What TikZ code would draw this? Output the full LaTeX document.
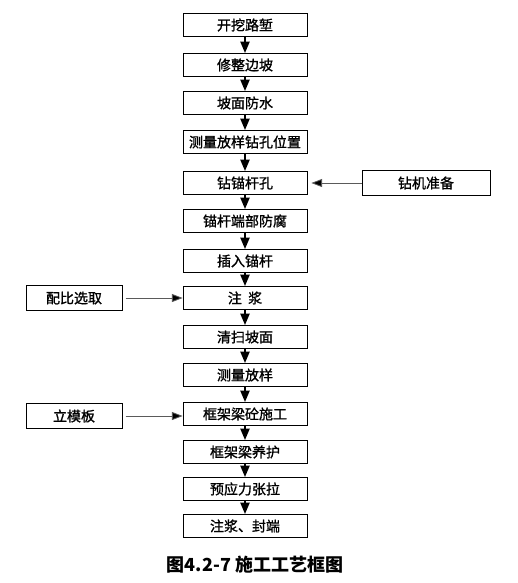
\documentclass[tikz,border=0pt]{standalone}
\usepackage{fontspec}
\usepackage{tikz}
\usetikzlibrary{arrows.meta,positioning}
\setmainfont{Noto Sans CJK SC}
\newfontfamily\boxfont[FakeBold=1.2]{Noto Sans CJK SC}
\definecolor{lnGray}{RGB}{90,90,90}

\begin{document}
\begin{tikzpicture}[x=0.75pt,y=-0.75pt,
        bx/.style={draw=black,fill=white,minimum width=93pt,minimum height=17.5pt,
                   inner sep=0pt,font=\boxfont\fontsize{10.5}{12}\selectfont,line width=0.6pt},
        sd/.style={bx,minimum height=18.5pt},
        ed/.style={draw=black,line width=0.9pt,-{Triangle[width=7pt,length=8.5pt]}},
        fd/.style={draw=lnGray,line width=0.6pt,-{Triangle[width=6pt,length=8pt,fill=black]}}]

        \useasboundingbox (0,0) rectangle (518,583);

        % main flow
        \foreach \n/\y/\t in {1/25/开挖路堑,2/65/修整边坡,3/103/坡面防水,
                              4/142/测量放样钻孔位置,5/183/钻锚杆孔,6/221/锚杆端部防腐,
                              7/261/插入锚杆,8/298/注\ \ 浆,9/337/清扫坡面,
                              10/375/测量放样,11/414/框架梁砼施工,12/452/框架梁养护,
                              13/489/预应力张拉,14/526/注浆、封端}{
          \node[bx] (p\n) at (245,\y) {\t};
        }

        \foreach \a/\b in {1/2,2/3,3/4,4/5,5/6,6/7,7/8,8/9,9/10,10/11,11/12,12/13,13/14}{
          \draw[ed] (p\a)--(p\b);
        }

        % side inputs
        \node[sd,minimum width=96pt] (zj) at (426,183) {钻机准备};
        \node[sd,minimum width=72pt] (pb) at (74,298) {配比选取};
        \node[sd,minimum width=72pt] (lm) at (74,416) {立模板};

        \draw[fd,shorten >=3pt] (zj)--(p5);
        \draw[fd,shorten <=2.5pt] (pb)--(p8);
        \draw[fd,shorten <=2.5pt] (lm)--(p11.west |- lm);

        % caption
        \node[font=\bfseries\fontsize{13.5}{15}\selectfont] (cap) at (255,565) {图4.2-7 施工工艺框图};
\end{tikzpicture}
\end{document}
